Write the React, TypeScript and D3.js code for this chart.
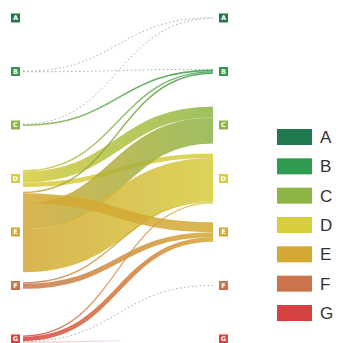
import React from "react";
import * as d3 from "d3";

const nodes = ["A", "B", "C", "D", "E", "F", "G"];
const nodeColors = ["#1f7a4d", "#2f9a50", "#8cb546", "#d6cc3c", "#d3a833", "#c9744a", "#d64141"];

const linkSources = ["B", "B", "C", "C", "D", "D", "D", "E", "E", "E", "E", "F", "F", "G", "G", "G", "G"];
const linkTargets = ["A", "B", "A", "B", "B", "C", "D", "B", "C", "D", "E", "D", "E", "D", "E", "F", "G"];
const linkValues = [0.6, 0.6, 0.6, 1.6, 1.4, 11, 4.5, 1.4, 26, 43, 10, 1.4, 5.2, 1.2, 4.5, 0.6, 0.8];
// stacking order of each link within its source node (lower = higher up)
const linkSourceRank = [0, 1, 0, 1, 0, 1, 2, 0, 2, 3, 1, 0, 1, 0, 1, 2, 3];

const W = 338;
const H = 343;

export default function App() {
  const yCenter = d3.scalePoint<string>().domain(nodes).range([18, 339]);
  const color = d3.scaleOrdinal<string, string>().domain(nodes).range(nodeColors);
  const wScale = d3.scaleLinear().domain([0, 100]).range([0, 100]);
  const x0 = 23;
  const x1 = 213;

  const links = linkSources.map((s, i) => ({
    i,
    s,
    t: linkTargets[i],
    v: linkValues[i],
    r: linkSourceRank[i],
    w: wScale(linkValues[i]),
    y0: 0,
    y1: 0,
  }));

  nodes.forEach((n) => {
    const outs = links.filter((l) => l.s === n).sort((a, b) => a.r - b.r);
    const tot = d3.sum(outs, (l) => l.w);
    let y = (yCenter(n) as number) - tot / 2;
    outs.forEach((l) => {
      l.y0 = y + l.w / 2;
      y += l.w;
    });
    const ins = links.filter((l) => l.t === n).sort((a, b) => nodes.indexOf(a.s) - nodes.indexOf(b.s));
    const tot2 = d3.sum(ins, (l) => l.w);
    let y2 = (yCenter(n) as number) - tot2 / 2;
    ins.forEach((l) => {
      l.y1 = y2 + l.w / 2;
      y2 += l.w;
    });
  });

  const linkGen = d3
    .linkHorizontal<any, [number, number]>()
    .source((d: any) => [x0, d.y0])
    .target((d: any) => [x1, d.y1]);

  const legendY = d3.scalePoint<string>().domain(nodes).range([129, 305]);

  return (
    <svg width={W} height={H} style={{ position: "absolute", left: 0, top: 0, background: "#fff" }}>
      <defs>
        {links.map((l) =>
          l.s === l.t && l.s === "G" ? (
            <linearGradient key={l.i} id={`g${l.i}`} gradientUnits="userSpaceOnUse" x1={x0} x2={x1} y1={0} y2={0}>
              <stop offset="0%" stopColor={color(l.s)} stopOpacity={0.9} />
              <stop offset="50%" stopColor={color(l.s)} stopOpacity={0.5} />
              <stop offset="52%" stopColor={color(l.s)} stopOpacity={0} />
            </linearGradient>
          ) : (
            <linearGradient key={l.i} id={`g${l.i}`} gradientUnits="userSpaceOnUse" x1={x0} x2={x1} y1={0} y2={0}>
              <stop offset="0%" stopColor={color(l.s)} />
              <stop offset="100%" stopColor={color(l.t)} />
            </linearGradient>
          )
        )}
      </defs>
      <g>
        {links.map((l) =>
          l.v < 0.7 ? (
            <path
              key={l.i}
              d={linkGen(l as any) as string}
              fill="none"
              stroke="#8a8a8a"
              strokeWidth={0.9}
              strokeDasharray="1.5 2.5"
              opacity={0.8}
            />
          ) : (
            <path
              key={l.i}
              d={linkGen(l as any) as string}
              fill="none"
              stroke={`url(#g${l.i})`}
              strokeWidth={l.w}
              opacity={l.v < 1 ? 0.5 : 0.85}
            />
          )
        )}
      </g>
      {[11, 219].map((x) =>
        nodes.map((n) => (
          <g key={`${x}-${n}`} transform={`translate(${x},${(yCenter(n) as number) - 4.5})`}>
            <rect width={9} height={9} fill={color(n)} />
            <text
              x={4.5}
              y={6.8}
              textAnchor="middle"
              fontSize={6.5}
              fontWeight="bold"
              fontFamily="DejaVu Sans, sans-serif"
              fill="#fff"
            >
              {n}
            </text>
          </g>
        ))
      )}
      <g>
        {nodes.map((n) => (
          <g key={n} transform={`translate(277,${legendY(n)})`}>
            <rect width={35} height={16} fill={color(n)} />
            <text x={43} y={14} fontSize={17} fontFamily="Liberation Sans, Arial, sans-serif" fill="#333">
              {n}
            </text>
          </g>
        ))}
      </g>
    </svg>
  );
}
